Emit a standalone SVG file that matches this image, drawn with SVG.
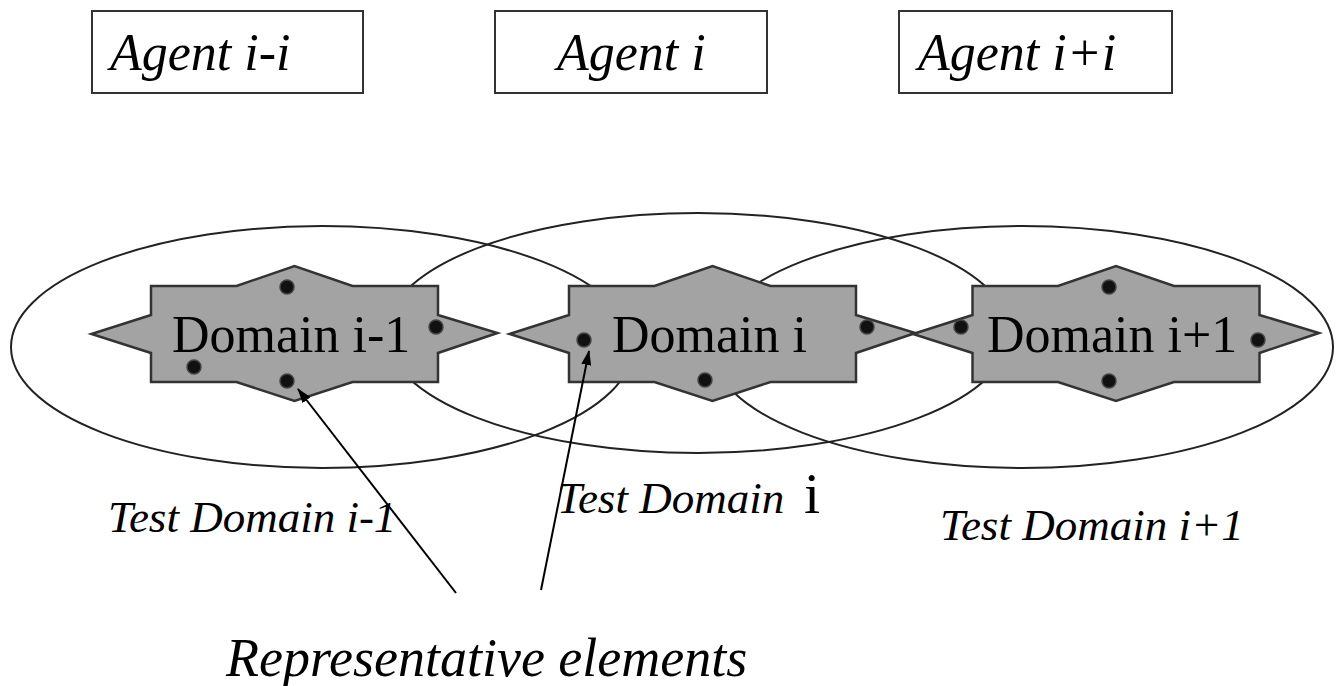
<svg xmlns="http://www.w3.org/2000/svg" width="1343" height="686" viewBox="0 0 1343 686">
<style>
.box{fill:#fff;stroke:#333;stroke-width:2}
.ell{fill:none;stroke:#222;stroke-width:2}
.star{fill:#a3a3a3;stroke:#333;stroke-width:2.5;stroke-linejoin:miter}
.dot{fill:#111;stroke:#444;stroke-width:1.5}
.it{font-style:italic}
.lead{stroke:#000;stroke-width:2;fill:none}
</style>
<defs>
<path id="starShape" d="M-203,0 L-143.5,-19 L-143.5,-48 L-58,-48 L0,-68 L58,-48 L143.5,-48 L143.5,-19 L203,-1 L143.5,19 L143.5,48 L58,48 L0,67 L-58,48 L-143.5,48 L-143.5,19 Z"/>
<marker id="ah" markerWidth="15" markerHeight="10" refX="14" refY="5" orient="auto" markerUnits="userSpaceOnUse">
<path d="M0,0 L15,5 L0,10 Z" fill="#000"/>
</marker>
</defs>
<g font-family="'Liberation Serif', 'Times New Roman', Times, serif" fill="#000">
<g id="agent-prev">
<rect class="box" x="92" y="11" width="271" height="82"/>
<text class="it" x="110" y="70" font-size="52">Agent i-i</text>
</g>
<g id="agent-cur">
<rect class="box" x="495" y="11" width="272" height="82"/>
<text class="it" x="557" y="70" font-size="52">Agent i</text>
</g>
<g id="agent-next">
<rect class="box" x="899" y="11" width="273" height="82"/>
<text class="it" x="918" y="70" font-size="52">Agent i+i</text>
</g>
<g id="test-domains">
<ellipse id="test-domain-prev" class="ell" cx="322" cy="347" rx="311" ry="121"/>
<ellipse id="test-domain-cur" class="ell" cx="698" cy="333" rx="312" ry="120"/>
<ellipse id="test-domain-next" class="ell" cx="1022" cy="347" rx="311" ry="121"/>
</g>
<g id="domain-prev">
<use href="#starShape" class="star" transform="translate(294.5,334)"/>
<text x="172" y="352" font-size="52">Domain i-1</text>
<circle class="dot" cx="287" cy="287" r="7"/>
<circle class="dot" cx="436" cy="327" r="7"/>
<circle class="dot" cx="194" cy="367" r="7"/>
<circle class="dot" cx="287" cy="381" r="7"/>
</g>
<g id="domain-cur">
<use href="#starShape" class="star" transform="translate(712.5,334)"/>
<text x="612" y="352" font-size="52">Domain i</text>
<circle class="dot" cx="584" cy="340" r="7"/>
<circle class="dot" cx="867" cy="327" r="7"/>
<circle class="dot" cx="705" cy="380" r="7"/>
</g>
<g id="domain-next">
<use href="#starShape" class="star" transform="translate(1116,334)"/>
<text x="987" y="352" font-size="52">Domain i+1</text>
<circle class="dot" cx="961" cy="327" r="7"/>
<circle class="dot" cx="1109" cy="287" r="7"/>
<circle class="dot" cx="1258" cy="340" r="7"/>
<circle class="dot" cx="1109" cy="381" r="7"/>
</g>
<g id="labels">
<text x="108" y="532" font-size="45" class="it">Test Domain i-1</text>
<text x="557" y="513" font-size="45"><tspan class="it">Test Domain</tspan><tspan x="804" font-size="58">i</tspan></text>
<text x="940" y="540" font-size="45" class="it">Test Domain i+1</text>
<text x="226" y="676" font-size="54" class="it">Representative elements</text>
</g>
</g>
<g id="connectors">
<line class="lead" x1="456" y1="593" x2="298" y2="389" marker-end="url(#ah)"/>
<line class="lead" x1="541" y1="590" x2="589" y2="351" marker-end="url(#ah)"/>
</g>
</svg>
